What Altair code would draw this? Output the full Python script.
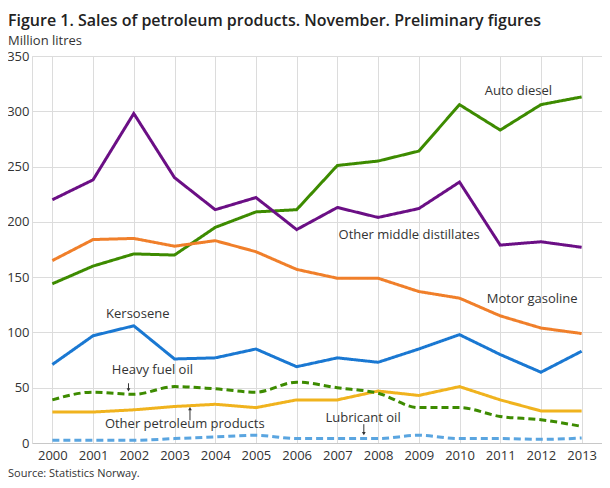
import altair as alt
import pandas as pd

years = list(range(2000, 2014))
auto_diesel = [144, 160, 171, 170, 195, 209, 211, 251, 255, 264, 306, 283, 306, 313]
other_middle = [220, 238, 298, 240, 211, 222, 193, 213, 204, 212, 236, 179, 182, 177]
motor_gasoline = [165, 184, 185, 178, 183, 173, 157, 149, 149, 137, 131, 115, 104, 99]
kerosene = [71, 97, 106, 76, 77, 85, 69, 77, 73, 85, 98, 80, 64, 83]
heavy_fuel = [39, 46, 44, 51, 49, 46, 55, 50, 45, 32, 32, 24, 21, 15]
other_petro = [28, 28, 30, 33, 35, 32, 39, 39, 47, 43, 51, 39, 29, 29]
lubricant = [2.5, 2.5, 2.5, 4, 5.5, 7, 4, 4, 4, 7, 4, 4, 3.3, 4.5]

series = [
    ("Auto diesel", auto_diesel),
    ("Other middle distillates", other_middle),
    ("Motor gasoline", motor_gasoline),
    ("Kersosene", kerosene),
    ("Other petroleum products", other_petro),
    ("Heavy fuel oil", heavy_fuel),
    ("Lubricant oil", lubricant),
]
colors = {
    "Auto diesel": "#3d8b00",
    "Other middle distillates": "#6b0f85",
    "Motor gasoline": "#f07f2a",
    "Kersosene": "#1a78d2",
    "Other petroleum products": "#f0b31e",
    "Heavy fuel oil": "#3d8b00",
    "Lubricant oil": "#5aa5e0",
}
dashed = {"Heavy fuel oil", "Lubricant oil"}

# label annotations (text, x in years, y in million litres)
label_text = ["Auto diesel", "Other middle distillates", "Motor gasoline", "Kersosene",
              "Heavy fuel oil", "Other petroleum products", "Lubricant oil"]
label_x = [2010.62, 2007.03, 2010.67, 2001.32, 2001.46, 2001.29, 2006.71]
label_y = [318, 188, 130, 117, 66, 17, 23]

# arrows: start and tip
arrow_x = [2001.87, 2003.38, 2007.65]
arrow_y0 = [54, 20.5, 17]
arrow_y1 = [48, 31, 8.5]
arrow_dir = ["down", "up", "down"]

W, H = 570, 387
FONT = "Open Sans"

rows = []
for name, vals in series:
    for y, v in zip(years, vals):
        rows.append({"series": name, "year": y, "value": v})
df = pd.DataFrame(rows)

xscale = alt.Scale(domain=[1999.5, 2013.5], nice=False, zero=False)
yscale = alt.Scale(domain=[0, 350], nice=False)

xaxis = alt.Axis(values=years, format="d", title=None, grid=True, gridColor="#dcdcdc",
                 ticks=False, domainColor="#c8c8c8", labelFontSize=13, labelColor="#333333",
                 labelPadding=6, labelFont=FONT, labelFlush=False)
yaxis = alt.Axis(values=list(range(0, 351, 50)), title=None, grid=True, gridColor="#dcdcdc",
                 ticks=False, domainColor="#dcdcdc", labelFontSize=13, labelColor="#333333",
                 labelPadding=3, labelFont=FONT)


def X(field):
    return alt.X(field, scale=xscale, axis=xaxis)


def Y(field):
    return alt.Y(field, scale=yscale, axis=yaxis)


layers = []
for name, _ in series:
    sub = df[df.series == name]
    mk = alt.Chart(sub).mark_line(
        strokeWidth=3,
        color=colors[name],
        strokeDash=[7, 4] if name in dashed else [1, 0],
        interpolate="monotone" if name in dashed else "linear",
        strokeCap="butt",
    ).encode(x=X("year:Q"), y=Y("value:Q"))
    layers.append(mk)

lab_df = pd.DataFrame({"text": label_text, "x": label_x, "y": label_y})
labels = alt.Chart(lab_df).mark_text(
    align="left", baseline="middle", fontSize=13, font=FONT, color="#333333"
).encode(x=X("x:Q"), y=Y("y:Q"), text="text:N")

arr_df = pd.DataFrame({"x": arrow_x, "y0": arrow_y0, "y1": arrow_y1, "dir": arrow_dir})
arrow_lines = alt.Chart(arr_df).mark_rule(color="#333333", strokeWidth=1).encode(
    x=X("x:Q"), y=Y("y0:Q"), y2="y1:Q"
)
heads_down = alt.Chart(arr_df[arr_df.dir == "down"]).mark_point(
    shape="triangle-down", filled=True, size=14, color="#333333", opacity=1
).encode(x=X("x:Q"), y=Y("y1:Q"))
heads_up = alt.Chart(arr_df[arr_df.dir == "up"]).mark_point(
    shape="triangle-up", filled=True, size=14, color="#333333", opacity=1
).encode(x=X("x:Q"), y=Y("y1:Q"))

source = alt.Chart(pd.DataFrame({"t": ["Source: Statistics Norway."]})).mark_text(
    align="left", baseline="bottom", fontSize=11, font=FONT, color="#333333"
).encode(x=alt.value(-24), y=alt.value(H + 36), text="t:N")

chart = alt.layer(*layers, labels, arrow_lines, heads_down, heads_up, source).properties(
    width=W,
    height=H,
    title=alt.Title(
        "Figure 1. Sales of petroleum products. November. Preliminary figures",
        subtitle="Million litres",
        anchor="start",
        frame="group",
        dx=-24,
        font=FONT,
        fontSize=16,
        fontWeight=600,
        color="#222222",
        subtitleFont=FONT,
        subtitleFontSize=13,
        subtitleColor="#333333",
        subtitlePadding=6,
        offset=2,
    ),
    autosize=alt.AutoSizeParams(type="none"),
    padding={"left": 24, "top": 48, "right": 0, "bottom": 37},
).configure_view(strokeWidth=0).configure(background="white")

chart.save("out.html", embed_options={"renderer": "svg", "actions": False})
